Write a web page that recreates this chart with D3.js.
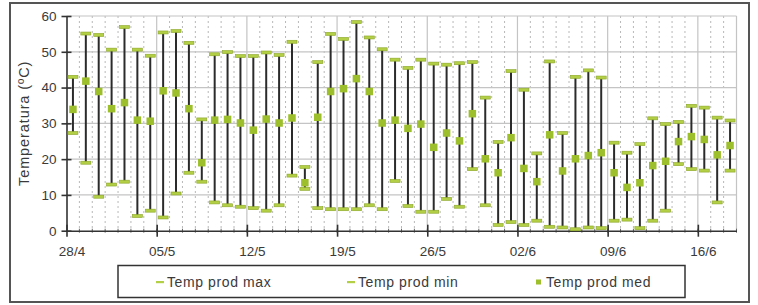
<!DOCTYPE html>
<html>
<head>
<meta charset="utf-8">
<script src="https://cdn.jsdelivr.net/npm/d3@7"></script>
<style>
  body { margin: 0; background: #fff; }
  svg { display: block; font-family: "Liberation Sans", Arial, sans-serif; }
</style>
</head>
<body>
<div id="plot"></div>
<script>
// one entry per day, 28/4 .. 18/6
var days = ["28/4","29/4","30/4","01/5","02/5","03/5","04/5","05/5","06/5","07/5",
  "08/5","09/5","10/5","11/5","12/5","13/5","14/5","15/5","16/5","17/5",
  "18/5","19/5","20/5","21/5","22/5","23/5","24/5","25/5","26/5","27/5",
  "28/5","29/5","30/5","31/5","01/6","02/6","03/6","04/6","05/6","06/6",
  "07/6","08/6","09/6","10/6","11/6","12/6","13/6","14/6","15/6","16/6",
  "17/6","18/6"];

var tempMax = [43.0,55.1,54.7,50.6,56.9,50.6,48.9,55.4,55.8,52.5,
  31.1,49.3,49.9,48.8,48.8,49.8,49.1,52.8,17.8,47.1,
  55.0,53.6,58.3,54.0,50.7,47.8,45.5,47.8,46.7,46.4,
  46.8,47.1,37.2,24.8,44.6,39.4,21.6,47.3,27.3,43.0,
  44.8,42.8,24.6,21.8,24.2,31.4,29.8,30.4,34.9,34.4,
  31.6,30.8];

var tempMin = [27.3,19.0,9.5,12.9,13.7,4.1,5.6,3.7,10.4,16.2,
  13.7,7.9,7.1,6.7,6.3,5.6,7.1,15.4,11.7,6.3,
  6.0,6.0,6.0,7.1,6.0,13.9,6.9,5.3,5.3,8.9,
  6.7,17.2,7.1,1.6,2.4,1.6,2.8,1.1,0.9,0.4,
  0.9,0.7,2.8,3.1,0.7,2.8,5.6,18.6,17.2,16.8,
  7.9,16.8];

var tempMed = [33.9,41.8,38.9,34.1,35.8,30.9,30.6,39.1,38.5,34.1,
  19.0,30.9,31.1,30.1,28.1,31.2,30.1,31.5,13.4,31.7,
  38.9,39.7,42.5,38.9,30.1,30.9,28.6,29.8,23.3,27.3,
  25.1,32.7,20.1,16.2,26.0,17.4,13.7,26.8,16.7,20.1,
  21.0,21.8,16.2,12.1,13.4,18.2,19.4,24.9,26.3,25.5,
  21.2,23.8];

var tickLabels = ["28/4","05/5","12/5","19/5","26/5","02/6","09/6","16/6"];
var yTicks = [0,10,20,30,40,50,60];
var seriesNames = ["Temp prod max","Temp prod min","Temp prod med"];

var W = 758, H = 305;
var plotLeft = 66.5, plotRight = 736.5, plotTop = 16, plotBottom = 230.7;
var green = "#9dbf2c";
var capGreen = "#b3cf45";

var svg = d3.select("#plot").append("svg")
  .attr("width", W).attr("height", H);

svg.append("rect").attr("width", W).attr("height", H).attr("fill", "#fff");

// outer frame
svg.append("rect")
  .attr("x", 10).attr("y", 3).attr("width", 739).attr("height", 299)
  .attr("fill", "none").attr("stroke", "#555").attr("stroke-width", 2);

var x = d3.scaleBand().domain(days).range([plotLeft, plotRight]);
var xb = d3.scaleLinear().domain([0, days.length]).range([plotLeft, plotRight]);
var y = d3.scaleLinear().domain([0, 60]).range([plotBottom, plotTop]);

// minor dotted grid at day boundaries
svg.append("g").selectAll("line")
  .data(d3.range(1, days.length + 1).filter(function (i) { return i % 7 != 0; }))
  .enter().append("line")
  .attr("x1", function (i) { return xb(i); })
  .attr("x2", function (i) { return xb(i); })
  .attr("y1", plotTop).attr("y2", plotBottom)
  .attr("stroke", "#b8b8b8").attr("stroke-width", 1)
  .attr("stroke-dasharray", "2,3");

// horizontal grid
svg.append("g").selectAll("line")
  .data(yTicks.slice(1))
  .enter().append("line")
  .attr("x1", plotLeft).attr("x2", plotRight)
  .attr("y1", function (d) { return y(d); })
  .attr("y2", function (d) { return y(d); })
  .attr("stroke", "#c4c4c4").attr("stroke-width", 1.2);

// major vertical grid
svg.append("g").selectAll("line")
  .data([7, 14, 21, 28, 35, 42, 49])
  .enter().append("line")
  .attr("x1", function (i) { return xb(i); })
  .attr("x2", function (i) { return xb(i); })
  .attr("y1", plotTop).attr("y2", plotBottom)
  .attr("stroke", "#c4c4c4").attr("stroke-width", 1.2);

// right plot border
svg.append("line")
  .attr("x1", plotRight).attr("x2", plotRight).attr("y1", plotTop).attr("y2", plotBottom)
  .attr("stroke", "#c4c4c4").attr("stroke-width", 1.2);

// y axis
var yAxis = svg.append("g")
  .attr("transform", "translate(" + plotLeft + ",0)")
  .call(d3.axisLeft(y).tickValues(yTicks).tickSizeInner(5).tickSizeOuter(0).tickPadding(6));
yAxis.select(".domain").attr("stroke", "#333").attr("stroke-width", 1.6);
yAxis.selectAll(".tick line").attr("x1", -5).attr("x2", 5).attr("stroke", "#333").attr("stroke-width", 1.6);
yAxis.selectAll("text").attr("font-size", 13.5).attr("fill", "#3a3a3a").attr("x", -10);

// x axis minor ticks
svg.append("g").selectAll("line")
  .data(d3.range(1, days.length + 1))
  .enter().append("line")
  .attr("x1", function (i) { return xb(i); })
  .attr("x2", function (i) { return xb(i); })
  .attr("y1", plotBottom - 2).attr("y2", plotBottom + 2)
  .attr("stroke", "#666").attr("stroke-width", 1);

var xAxis = svg.append("g")
  .attr("transform", "translate(0," + plotBottom + ")")
  .call(d3.axisBottom(xb)
    .tickValues([0, 7, 14, 21, 28, 35, 42, 49])
    .tickFormat(function (d, i) { return tickLabels[i]; })
    .tickSizeInner(6).tickSizeOuter(0).tickPadding(10));
xAxis.select(".domain").attr("stroke", "#333").attr("stroke-width", 1.6);
xAxis.selectAll(".tick line").attr("y1", -6).attr("y2", 6).attr("stroke", "#333").attr("stroke-width", 1.6);
xAxis.selectAll("text").attr("font-size", 13.5).attr("fill", "#3a3a3a").attr("x", 5);

// y axis title
svg.append("text")
  .attr("transform", "translate(29," + ((plotTop + plotBottom) / 2) + ") rotate(-90)")
  .attr("text-anchor", "middle")
  .attr("font-size", 14.5).attr("letter-spacing", 0.9).attr("fill", "#3a3a3a")
  .text("Temperatura (ºC)");

// high-low lines
var rows = days.map(function (d, i) {
  return { day: d, max: tempMax[i], min: tempMin[i], med: tempMed[i] };
});
var cx = function (d) { return x(d.day) + x.bandwidth() / 2; };

svg.append("g").selectAll("line")
  .data(rows)
  .enter().append("line")
  .attr("x1", cx).attr("x2", cx)
  .attr("y1", function (d) { return y(d.max); })
  .attr("y2", function (d) { return y(d.min); })
  .attr("stroke", "#2b2b2b").attr("stroke-width", 2);

// caps for max and min
["max", "min"].forEach(function (key) {
  svg.append("g").selectAll("rect")
    .data(rows)
    .enter().append("rect")
    .attr("x", function (d) { return cx(d) - 5; })
    .attr("y", function (d) { return y(d[key]) - 1.5; })
    .attr("width", 10).attr("height", 3)
    .attr("fill", capGreen).attr("stroke", "#8aa526").attr("stroke-width", 0.6);
});

// median squares
svg.append("g").selectAll("rect")
  .data(rows)
  .enter().append("rect")
  .attr("x", function (d) { return cx(d) - 3.75; })
  .attr("y", function (d) { return y(d.med) - 3.75; })
  .attr("width", 7.5).attr("height", 7.5)
  .attr("fill", green);

// legend
svg.append("rect")
  .attr("x", 118).attr("y", 265.5).attr("width", 567).attr("height", 32)
  .attr("fill", "#fff").attr("stroke", "#333").attr("stroke-width", 1.5);

var legendX = [157, 348, 536];
var lg = svg.append("g").selectAll("g")
  .data(seriesNames)
  .enter().append("g")
  .attr("transform", function (d, i) { return "translate(" + legendX[i] + ",282)"; });

lg.append("rect")
  .attr("x", function (d, i) { return i == 2 ? 0 : -1; })
  .attr("y", function (d, i) { return i == 2 ? -2.5 : -1; })
  .attr("width", function (d, i) { return i == 2 ? 5 : 8; })
  .attr("height", function (d, i) { return i == 2 ? 5 : 2.2; })
  .attr("fill", function (d, i) { return i == 2 ? green : capGreen; });

lg.append("text")
  .attr("x", 10).attr("y", 5)
  .attr("font-size", 14).attr("letter-spacing", 0.6).attr("fill", "#3a3a3a")
  .text(function (d) { return d; });
</script>
</body>
</html>
